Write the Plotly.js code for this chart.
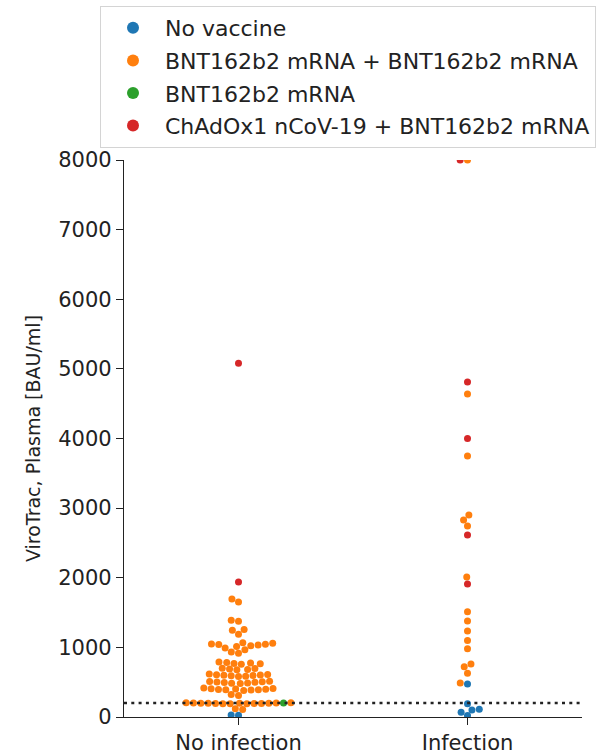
<!DOCTYPE html>
<html><head><meta charset="utf-8">
<script src="https://cdn.plot.ly/plotly-3.0.1.min.js"></script>
<style>html,body{margin:0;padding:0;background:#fff}</style>
</head><body><div id="chart" style="width:597px;height:755px"></div>
<script>
const categories = ['No infection', 'Infection'];
const groups = ['No vaccine', 'BNT162b2 mRNA + BNT162b2 mRNA', 'BNT162b2 mRNA', 'ChAdOx1 nCoV-19 + BNT162b2 mRNA'];
const colors = ['#1f77b4', '#ff7f0e', '#2ca02c', '#d62728'];

// values per group, per category [No infection, Infection]
const noVaccineNoInfection = [30, 25];
const noVaccineInfection = [475, 190, 110, 100, 70, 20];
const bntBntNoInfection = [
  1695, 1650, 1390, 1375, 1255, 1245, 1190,
  1065, 1058, 1050, 1046, 1040, 1033, 1025, 1012, 990, 965,
  935, 915,
  790, 782, 776, 770, 764, 758,
  700, 695, 690, 684, 678,
  618, 612, 607, 603, 600, 596, 592, 587, 580,
  515, 510, 505, 501, 498, 494, 490, 486, 480,
  415, 410, 406, 402, 399, 396, 393, 390, 386, 381,
  322, 310,
  205, 203, 201, 200, 199, 198, 197, 196, 195, 194, 193, 192, 191, 190,
  118, 108
];
const bntBntInfection = [8000, 4640, 3750, 2900, 2830, 2745, 2010, 1510, 1380, 1235, 1100, 980, 760, 720, 630, 490];
const bntNoInfection = [201.5];
const bntInfection = [];
const chadBntNoInfection = [5080, 1940];
const chadBntInfection = [8000, 4810, 4000, 2615, 1910];
const threshold = 200;
const yTicks = [0, 1000, 2000, 3000, 4000, 5000, 6000, 7000, 8000];

const seriesByGroup = [
  [noVaccineNoInfection, noVaccineInfection],
  [bntBntNoInfection, bntBntInfection],
  [bntNoInfection, bntInfection],
  [chadBntNoInfection, chadBntInfection]
];

const W = 597, H = 755;
const margin = {l: 124, r: 15, t: 160, b: 38};
const plotW = W - margin.l - margin.r;
const plotH = H - margin.t - margin.b;
const xRange = [-0.5, 1.5], yRange = [0, 8000];
const pxPerX = plotW / (xRange[1] - xRange[0]);
const pxPerY = plotH / (yRange[1] - yRange[0]);
const R = 3.5; // marker radius in px

function beeswarm(points) {
  const pts = points.map((p, i) => Object.assign({}, p, {py: (p.v - yRange[0]) * pxPerY, i}));
  pts.sort((a, b) => a.py - b.py || a.i - b.i);
  const placed = [];
  for (const p of pts) {
    const nb = [];
    for (let k = placed.length - 1; k >= 0; k--) {
      if (p.py - placed[k].py < 2 * R) nb.push(placed[k]); else break;
    }
    nb.reverse();
    const cands = [0];
    let leftFirst = true;
    for (const q of nb) {
      const dy = p.py - q.py;
      const dx = Math.sqrt(Math.max(4 * R * R - dy * dy, 0)) * 1.05;
      if (leftFirst) cands.push(q.px - dx, q.px + dx); else cands.push(q.px + dx, q.px - dx);
      leftFirst = !leftFirst;
    }
    const order = cands.map((c, i) => ({c, i})).sort((a, b) => Math.abs(a.c) - Math.abs(b.c) || a.i - b.i);
    let chosen = 0;
    for (const o of order) {
      let ok = true;
      for (const q of nb) {
        const dx = o.c - q.px, dy = p.py - q.py;
        if (dx * dx + dy * dy < 4 * R * R - 1e-6) { ok = false; break; }
      }
      if (ok) { chosen = o.c; break; }
    }
    p.px = chosen;
    placed.push(p);
  }
  return pts;
}

const traceX = groups.map(() => []);
const traceY = groups.map(() => []);
categories.forEach((cat, ci) => {
  const pts = [];
  seriesByGroup.forEach((byCat, gi) => byCat[ci].forEach(v => pts.push({v, g: gi})));
  beeswarm(pts).forEach(p => {
    traceX[p.g].push(ci + p.px / pxPerX);
    traceY[p.g].push(p.v);
  });
});

const font = 'DejaVu Sans, Verdana, sans-serif';
const ink = '#222';
const data = groups.map((name, gi) => ({
  type: 'scatter', mode: 'markers', name,
  x: traceX[gi], y: traceY[gi],
  legendgroup: 'g' + gi,
  marker: {color: colors[gi], size: 7, line: {width: 0}},
  cliponaxis: true, hoverinfo: 'x+y+name'
}));

const layout = {
  width: W, height: H,
  margin: Object.assign({autoexpand: false}, margin),
  paper_bgcolor: '#fff', plot_bgcolor: '#fff',
  font: {family: font, color: ink},
  showlegend: true,
  legend: {
    x: (100 - margin.l) / plotW, y: 1 + (margin.t - 6) / plotH,
    xanchor: 'left', yanchor: 'top',
    bgcolor: '#fff', bordercolor: '#d4d4d4', borderwidth: 1,
    font: {family: font, size: 22, color: ink},
    traceorder: 'grouped', tracegroupgap: 1, itemwidth: 54, itemsizing: 'constant'
  },
  xaxis: {
    range: xRange, tickmode: 'array', tickvals: categories.map((c, i) => i), ticktext: categories,
    showline: true, linecolor: ink, linewidth: 1.3, ticks: 'outside', ticklen: 7, tickwidth: 1.3, tickcolor: ink,
    showgrid: false, zeroline: false, tickfont: {family: font, size: 21, color: ink}
  },
  yaxis: {
    range: yRange, tickmode: 'array', tickvals: yTicks, ticktext: yTicks.map(String),
    showline: true, linecolor: ink, linewidth: 1.3, ticks: 'outside', ticklen: 7, tickwidth: 1.3, tickcolor: ink,
    showgrid: false, zeroline: false, tickfont: {family: font, size: 21, color: ink},
    title: {text: 'ViroTrac, Plasma [BAU/ml]', font: {family: font, size: 19, color: ink}, standoff: 12}
  },
  shapes: [{
    type: 'line', xref: 'paper', x0: 0, x1: 1, yref: 'y', y0: threshold, y1: threshold,
    line: {color: ink, width: 2.5, dash: '3px,4.3px'}, layer: 'above'
  }]
};

Plotly.newPlot('chart', data, layout, {displayModeBar: false, responsive: false});
</script></body></html>
